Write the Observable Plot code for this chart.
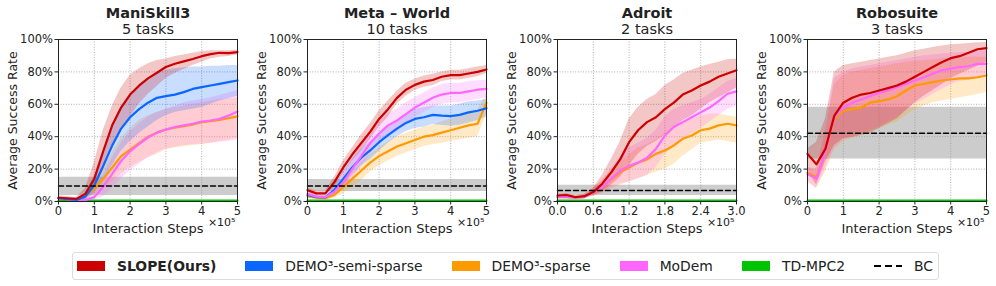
<!DOCTYPE html>
<html>
<head>
<meta charset="utf-8">
<script src="https://cdn.jsdelivr.net/npm/d3@7"></script>
<script src="https://cdn.jsdelivr.net/npm/@observablehq/plot@0.6"></script>
<style>
  html, body { margin: 0; padding: 0; background: #fff; }
  #root { position: relative; width: 996px; height: 286px; font-family: "DejaVu Sans", sans-serif; overflow: hidden; }
  .panel { position: absolute; top: 0; }
  #legend { position: absolute; left: 72px; top: 252px; width: 861px; height: 26px; border: 1px solid #dcdcdc; border-radius: 3px; display: flex; align-items: center; font-size: 13.9px; color: #222; white-space: nowrap; }
  .item { display: flex; align-items: center; margin-right: 29px; flex-shrink: 0; white-space: nowrap; }
  .sw { width: 28px; height: 10px; margin-right: 12px; flex-shrink: 0; }
</style>
</head>
<body>
<div id="root"><div id="legend"></div></div>
<script>
// ---------- DATA (values in percent) ----------
const seriesNames = ["SLOPE(Ours)", "DEMO³-semi-sparse", "DEMO³-sparse", "MoDem", "TD-MPC2", "BC"];
const seriesColors = ["#cc0000", "#0a66ff", "#ff9900", "#ff66ff", "#00c400", "#000000"];

const panelTitles = ["ManiSkill3", "Meta – World", "Adroit", "Robosuite"];
const panelSubtitles = ["5 tasks", "10 tasks", "2 tasks", "3 tasks"];

const xTicks5 = [0, 1, 2, 3, 4, 5];
const xTicks3 = [0, 0.6, 1.2, 1.8, 2.4, 3.0];
const yTicks = [0, 20, 40, 60, 80, 100];

const steps5 = [0, 0.25, 0.5, 0.75, 1, 1.25, 1.5, 1.75, 2, 2.25, 2.5, 2.75, 3, 3.25, 3.5, 3.75, 4, 4.25, 4.5, 4.75, 5];
const steps3 = [0, 0.15, 0.3, 0.45, 0.6, 0.75, 0.9, 1.05, 1.2, 1.35, 1.5, 1.65, 1.8, 1.95, 2.1, 2.25, 2.4, 2.55, 2.7, 2.85, 3.0];

// ManiSkill3
const maniSlope   = [2.3, 2, 1.6, 4.7, 14, 31, 47, 58, 66, 71.5, 76, 79.5, 83, 85, 86.5, 88, 89.7, 91, 91.8, 91.6, 92.2];
const maniSlopeHi = [3.5, 3, 2.5, 8, 24, 44, 59, 70, 78, 82, 85, 87, 88, 89.5, 90.5, 91.5, 92.6, 93, 93, 93, 93.5];
const maniSlopeLo = [1, 1, 0.8, 2, 7, 19, 34, 45, 52, 60, 66, 71, 76, 79, 81.5, 84, 86, 88, 89, 89.5, 90.5];
const maniSemi    = [2, 1.5, 1, 3, 10, 22, 34.5, 45, 52, 57, 61, 64, 65, 66, 67.5, 69.5, 70.6, 71.6, 72.6, 73.7, 74.7];
const maniSemiHi  = [3, 2, 1.5, 5, 16, 32, 47, 59, 66, 72, 76, 79, 81, 82, 82.5, 83, 83, 83.5, 83.5, 84, 84];
const maniSemiLo  = [1, 1, 0.5, 1, 5, 13, 22, 31, 37, 42, 46, 50, 53, 55, 56, 57, 58, 60, 62, 63.5, 65];
const maniSparse  = [2, 1.5, 1, 3.3, 8, 14, 21, 28, 32, 36, 40, 42.5, 44.5, 45.5, 46.5, 47.5, 49, 49.6, 50.4, 51.4, 52.5];
const maniSparseHi= [3, 2, 1.5, 5, 13, 21, 30, 39, 45, 50, 53, 55, 57, 58, 59, 60, 61, 62, 63, 63.5, 64];
const maniSparseLo= [1, 1, 0.5, 1, 4, 8, 12, 17, 21, 24, 27, 29, 32, 33, 34, 34.5, 35, 36, 37, 38, 39];
const maniModem   = [2, 1.5, 1, 1, 2.7, 9, 17, 25, 31, 35.5, 39.5, 42.5, 44.4, 46, 47, 48, 49.4, 50, 51, 53, 55.5];
const maniModemHi = [3, 2, 1.5, 2.5, 7, 16, 27, 36, 43, 48, 52, 55, 57, 59, 61, 62, 63, 64, 65.5, 67, 68.5];
const maniModemLo = [1, 1, 0.5, 0.3, 1, 3, 8, 14, 19, 23, 27, 30, 32.5, 33.5, 34.5, 35, 35.5, 36, 36.5, 37, 38];
const maniTdmpc   = [0.5, 0.5, 0.5, 0.5, 0.5, 0.5, 0.5, 0.5, 0.5, 0.5, 0.5, 0.5, 0.5, 0.5, 0.5, 0.5, 0.5, 0.5, 0.5, 0.5, 0.5];
const maniBC = [9.5, 3.7, 15]; // mean, lo, hi

// Meta-World
const metaSlope   = [7, 5, 5, 12, 21, 29, 36, 43, 51, 57, 64, 69, 72, 74, 75, 77, 78, 78, 79, 80, 81.5];
const metaSlopeHi = [8.5, 6.5, 6.5, 15, 25, 33, 41, 48, 56, 62, 68, 73, 75.5, 77.5, 78.5, 80, 81, 81, 82, 83, 84];
const metaSlopeLo = [5.5, 3.5, 3.5, 9, 17, 25, 31, 38, 46, 52, 60, 65, 68.5, 70.5, 71.5, 74, 75, 75, 76, 77, 79];
const metaSemi    = [4, 2.7, 2.5, 7, 14, 21, 27, 31.5, 36.6, 41, 45, 48.5, 51, 52, 53.5, 53, 52.7, 53.5, 55, 56, 57.6];
const metaSemiHi  = [5, 3.5, 3.5, 10, 18, 26, 32, 37, 42, 46, 50, 54, 57, 58, 59, 59, 59, 60, 61.5, 62, 63];
const metaSemiLo  = [3, 2, 1.5, 4, 10, 16, 22, 26, 31, 36, 40, 43, 45, 46, 47.5, 47, 46.5, 47, 48.5, 50, 52];
const metaSparse  = [3.3, 2.3, 2, 4, 9, 14, 19, 24, 28, 31, 34, 36, 38, 40, 41, 42.5, 44, 45.5, 47, 48, 61];
const metaSparseHi= [4.5, 3.3, 3, 6, 12, 18, 24, 29, 33, 37, 40, 42, 44, 46, 47, 49, 51, 53, 55, 56, 66];
const metaSparseLo= [2, 1.3, 1, 2, 5, 9, 13, 18, 22, 25, 28, 30, 32, 34, 35, 36, 37, 38, 39, 40, 54];
const metaModem   = [4.7, 3, 2.7, 6, 12, 20, 28, 36, 42, 47, 50, 54, 58, 61, 64, 66, 67, 67, 68, 69, 69.5];
const metaModemHi = [6, 4, 3.5, 8, 16, 26, 35, 43, 49, 54, 57, 61, 64, 67, 70, 72, 73, 73, 74, 74.5, 75];
const metaModemLo = [3.5, 2, 2, 4, 8, 14, 21, 29, 35, 40, 43, 47, 52, 55, 58, 60, 61, 61, 62, 63, 64];
const metaTdmpc   = [0.5, 0.5, 0.5, 0.5, 0.5, 0.5, 0.5, 0.5, 0.5, 0.5, 0.5, 0.5, 0.5, 0.5, 0.5, 0.5, 0.5, 0.5, 0.5, 0.5, 0.5];
const metaBC = [9.5, 6.2, 13.6];

// Adroit
const adroSlope   = [3.7, 4, 2.7, 3.3, 5.8, 11, 18, 26, 36.6, 44, 49, 52, 57, 61, 66, 68.5, 71.6, 74, 77, 79, 81];
const adroSlopeHi = [4.5, 5, 3.5, 4.5, 8, 16, 26, 37, 51, 58, 63, 66, 71.6, 75, 79, 81, 83, 84.5, 86, 87.5, 88];
const adroSlopeLo = [3, 3, 2, 2, 3.5, 6, 10, 15, 22, 29, 34, 37, 41, 45, 50, 53, 57, 61, 64, 67, 70];
const adroSparse  = [2.7, 2.7, 2.3, 2.7, 5.8, 9, 13.6, 18, 21, 24, 26, 29.4, 31.5, 34.6, 38.7, 40.7, 44, 45, 47, 48, 47];
const adroSparseHi= [3.5, 3.5, 3, 3.5, 8, 13, 19, 24, 29, 33, 35, 38, 42, 46, 49, 51, 53, 54, 54, 53, 52];
const adroSparseLo= [2, 2, 1.5, 2, 3.5, 5, 8, 10, 12, 14, 16, 18, 20, 23, 28, 32, 36, 37, 38, 37, 36];
const adroModem   = [2.7, 2.7, 2.3, 2.7, 5.8, 9, 14, 19, 22, 24, 27, 32.5, 40.7, 46, 49, 52, 55, 58, 62, 66.5, 68];
const adroModemHi = [3.5, 3.5, 3, 3.5, 8, 13, 20, 27, 33, 36, 39, 44, 52, 57, 59, 61, 63, 66, 70, 74, 76];
const adroModemLo = [2, 2, 1.5, 2, 3.5, 5, 8, 11, 12, 14, 16, 21, 29, 34, 38, 42, 45, 49, 53, 57, 59];
const adroTdmpc   = [0.5, 0.5, 0.5, 0.5, 0.5, 0.5, 0.5, 0.5, 0.5, 0.5, 0.5, 0.5, 0.5, 0.5, 0.5, 0.5, 0.5, 0.5, 0.5, 0.5, 0.5];
const adroBC = [6.8, 3.7, 10];

// Robosuite
const roboSlope   = [29.4, 23, 32.5, 53, 61, 64, 66, 67, 68.5, 70, 71.6, 74, 77, 80, 83, 86, 88.5, 89.7, 91.8, 94, 94.7];
const roboSlopeHi = [32.5, 36.6, 51, 80, 84, 85, 86, 87, 88, 89, 90, 91.5, 93, 94, 95, 96, 96.7, 97, 97.5, 98, 98];
const roboSlopeLo = [20, 10, 24, 34.6, 38.7, 39.5, 40.7, 42, 45, 48, 51, 56, 61, 65, 68.5, 72, 75.7, 78.5, 81, 83.5, 86];
const roboSparse  = [17.7, 15, 29.4, 51, 56, 57, 58, 61, 62, 63, 65, 68.5, 71.6, 72.6, 73.7, 74.7, 75.3, 76, 76, 76.7, 77.8];
const roboSparseHi= [21, 19, 42, 72, 78, 80, 81, 82, 83, 84, 85, 86, 86.5, 87, 87.5, 88, 88.5, 88.5, 89, 89, 89];
const roboSparseLo= [13, 8, 18, 32, 37, 39, 41, 43, 45, 47, 49, 53, 57, 59, 61, 62, 63, 64, 65, 66, 67.5];
const roboModem   = [17, 14, 30.5, 52, 58, 61, 63, 65, 67, 68.5, 70.6, 72.6, 74.7, 76.7, 78.8, 81, 82, 83, 83.5, 85, 85];
const roboModemHi = [21, 20, 44, 76, 80, 82, 83, 84, 85, 86, 87, 88, 89, 90, 90.5, 91, 91.5, 92, 92, 92.5, 93];
const roboModemLo = [12, 8, 20, 33, 38, 40, 42, 44, 46, 49, 52, 56, 60, 63, 66, 69, 72, 74, 75, 76, 77];
const roboTdmpc   = [0.5, 0.5, 0.5, 0.5, 0.5, 0.5, 0.5, 0.5, 0.5, 0.5, 0.5, 0.5, 0.5, 0.5, 0.5, 0.5, 0.5, 0.5, 0.5, 0.5, 0.5];
const roboBC = [42.2, 26.3, 58.2];

// ---------- BUILD ----------
function rows(xs, m, lo, hi) { return xs.map((x, i) => ({x, y: m[i], lo: lo ? lo[i] : null, hi: hi ? hi[i] : null})); }

const panels = [
  {xs: steps5, xTicks: xTicks5, xMax: 5, fmt: d => String(d), BC: maniBC, series: [
    {k: 4, m: maniTdmpc},
    {k: 2, m: maniSparse, lo: maniSparseLo, hi: maniSparseHi},
    {k: 3, m: maniModem, lo: maniModemLo, hi: maniModemHi},
    {k: 1, m: maniSemi, lo: maniSemiLo, hi: maniSemiHi},
    {k: 0, m: maniSlope, lo: maniSlopeLo, hi: maniSlopeHi}]},
  {xs: steps5, xTicks: xTicks5, xMax: 5, fmt: d => String(d), BC: metaBC, series: [
    {k: 4, m: metaTdmpc},
    {k: 2, m: metaSparse, lo: metaSparseLo, hi: metaSparseHi},
    {k: 1, m: metaSemi, lo: metaSemiLo, hi: metaSemiHi},
    {k: 3, m: metaModem, lo: metaModemLo, hi: metaModemHi},
    {k: 0, m: metaSlope, lo: metaSlopeLo, hi: metaSlopeHi}]},
  {xs: steps3, xTicks: xTicks3, xMax: 3, fmt: d => d.toFixed(1), BC: adroBC, series: [
    {k: 4, m: adroTdmpc},
    {k: 2, m: adroSparse, lo: adroSparseLo, hi: adroSparseHi},
    {k: 3, m: adroModem, lo: adroModemLo, hi: adroModemHi},
    {k: 0, m: adroSlope, lo: adroSlopeLo, hi: adroSlopeHi}]},
  {xs: steps5, xTicks: xTicks5, xMax: 5, fmt: d => String(d), BC: roboBC, series: [
    {k: 4, m: roboTdmpc},
    {k: 2, m: roboSparse, lo: roboSparseLo, hi: roboSparseHi},
    {k: 3, m: roboModem, lo: roboModemLo, hi: roboModemHi},
    {k: 0, m: roboSlope, lo: roboSlopeLo, hi: roboSlopeHi}]}
];

const plotLefts = [58, 306.5, 557, 807];
const root = document.getElementById("root");

panels.forEach((p, pi) => {
  const ML = 58, MR = pi === 3 ? 10 : 13, MT = 39, MB = 45, PW = 179;
  const W = ML + PW + MR;
  const bcRows = [{x: 0, y: p.BC[0], lo: p.BC[1], hi: p.BC[2]}, {x: p.xMax, y: p.BC[0], lo: p.BC[1], hi: p.BC[2]}];
  const marks = [
    Plot.areaY(bcRows, {x: "x", y1: "lo", y2: "hi", fill: "#9a9a9a", fillOpacity: 0.5}),
    Plot.gridX(p.xTicks, {stroke: "#9a9a9a", strokeOpacity: 1, strokeWidth: 0.8, strokeDasharray: "1,1.6"}),
    Plot.gridY(yTicks, {stroke: "#9a9a9a", strokeOpacity: 1, strokeWidth: 0.8, strokeDasharray: "1,1.6"})
  ];
  p.series.forEach(s => {
    if (s.lo) marks.push(Plot.areaY(rows(p.xs, s.m, s.lo, s.hi), {x: "x", y1: "lo", y2: "hi", fill: seriesColors[s.k], fillOpacity: 0.22}));
  });
  p.series.forEach(s => {
    marks.push(Plot.lineY(rows(p.xs, s.m), {x: "x", y: "y", stroke: seriesColors[s.k], strokeWidth: 2.2}));
  });
  marks.push(Plot.lineY(bcRows, {x: "x", y: "y", stroke: "#000", strokeWidth: 1.5, strokeDasharray: "5,3"}));
  marks.push(Plot.frame({stroke: "#222", strokeWidth: 1}));
  marks.push(Plot.axisX(p.xTicks, {tickSize: 3.5, tickPadding: 2, tickFormat: p.fmt, fontSize: 11.5, label: null, fill: "#222"}));
  marks.push(Plot.axisY(yTicks, {tickSize: 3.5, tickPadding: 2, tickFormat: d => d + "%", fontSize: 11.5, label: null, fill: "#222"}));
  marks.push(Plot.text([panelTitles[pi]], {frameAnchor: "top", lineAnchor: "middle", dy: -26, fontWeight: "bold", fontSize: 14.5, fill: "#222"}));
  marks.push(Plot.text([panelSubtitles[pi]], {frameAnchor: "top", lineAnchor: "middle", dy: -10, fontSize: 14.5, fill: "#222"}));
  marks.push(Plot.text(["Interaction Steps"], {frameAnchor: "bottom", lineAnchor: "middle", dy: 27, fontSize: 13, fill: "#222"}));
  marks.push(Plot.text(["×10⁵"], {frameAnchor: "bottom-right", lineAnchor: "middle", dx: -2, dy: 21, textAnchor: "end", fontSize: 11, fill: "#222"}));
  marks.push(Plot.text(["Average Success Rate"], {frameAnchor: "left", textAnchor: "middle", lineAnchor: "middle", dx: -46, rotate: -90, fontSize: 12.5, fill: "#222"}));

  const svg = Plot.plot({
    width: W, height: MT + 162 + MB,
    marginLeft: ML, marginRight: MR, marginTop: MT, marginBottom: MB,
    style: {fontFamily: "DejaVu Sans", fontSize: "11.5px", color: "#222", background: "transparent", overflow: "visible"},
    x: {domain: [0, p.xMax], axis: null},
    y: {domain: [0, 100], axis: null},
    marks
  });
  svg.classList.add("panel");
  svg.style.left = (plotLefts[pi] - ML) + "px";
  root.appendChild(svg);
});

// ---------- LEGEND ----------
const legend = d3.select("#legend");
legend.style("padding-left", "4px");
seriesNames.forEach((name, i) => {
  const it = legend.append("div").attr("class", "item");
  if (name === "BC") {
    const s = it.append("svg").attr("width", 28).attr("height", 10).style("margin-right", "12px");
    s.append("line").attr("x1", 0).attr("x2", 28).attr("y1", 5).attr("y2", 5)
      .attr("stroke", "#000").attr("stroke-width", 2.2).attr("stroke-dasharray", "7,4");
  } else {
    it.append("div").attr("class", "sw").style("background", seriesColors[i]);
  }
  it.append("span").text(name).style("font-weight", i === 0 ? "bold" : "normal");
});
</script>
</body>
</html>
